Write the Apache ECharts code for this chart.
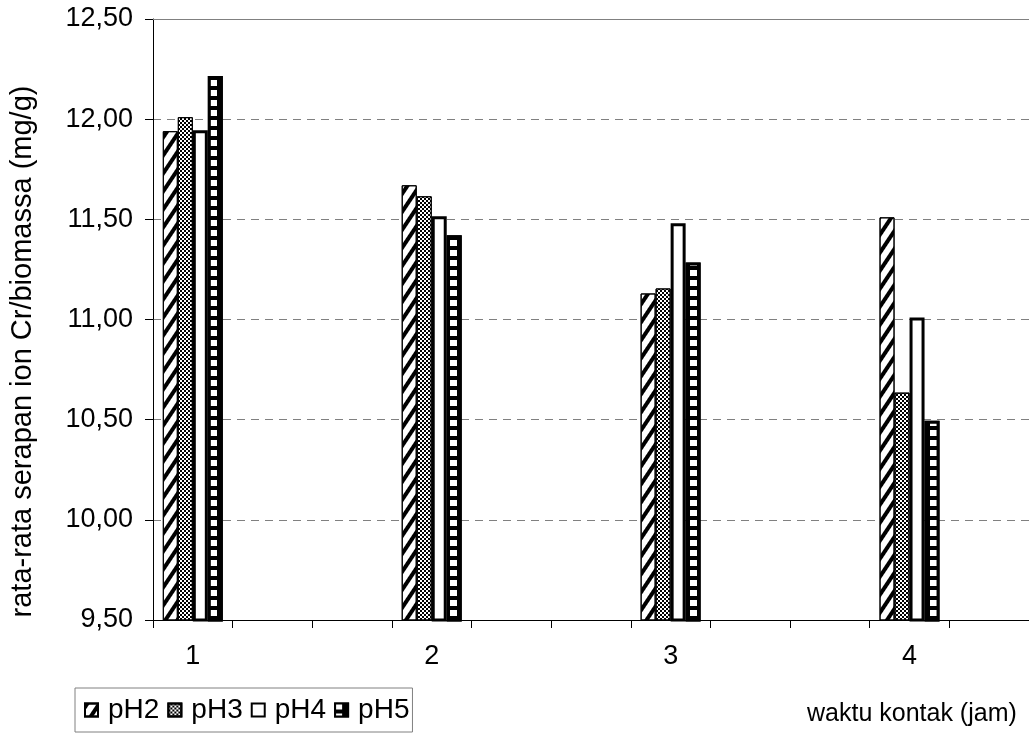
<!DOCTYPE html>
<html>
<head>
<meta charset="utf-8">
<script src="https://cdn.jsdelivr.net/npm/echarts@6/dist/echarts.min.js"></script>
<style>
html,body{margin:0;padding:0;background:#fff;}
#chart{width:1029px;height:744px;}
</style>
</head>
<body>
<div id="chart"></div>
<script>
// ---- data ----
const categories = ['1', '2', '3', '4'];
const seriesNames = ['pH2', 'pH3', 'pH4', 'pH5'];
const pH2 = [11.94, 11.67, 11.13, 11.51];
const pH3 = [12.01, 11.615, 11.155, 10.635];
const pH4 = [11.945, 11.515, 11.48, 11.01];
const pH5 = [12.215, 11.42, 11.285, 10.495];
const yTickValues = [9.5, 10.0, 10.5, 11.0, 11.5, 12.0, 12.5];
const yTitle = 'rata-rata serapan ion Cr/biomassa (mg/g)';
const xTitle = 'waktu kontak (jam)';

// category axis: each category sits in every 3rd slot of an 11-slot axis
const slotsPerCategory = 3;
const slotCount = 11;
const xSlots = [];
for (let s = 0; s < slotCount; s++) {
  xSlots.push(s % slotsPerCategory === 0 && categories[s / slotsPerCategory] !== undefined ? categories[s / slotsPerCategory] : ' ' + s);
}
function toSlots(values) {
  const out = new Array(slotCount).fill('-');
  values.forEach((v, i) => { out[i * slotsPerCategory] = v; });
  return out;
}

const FONT = 'Liberation Sans, Arial, sans-serif';
const chart = echarts.init(document.getElementById('chart'), null, {renderer: 'canvas'});

const styles = {
  pH2: {
    itemStyle: {
      color: '#ffffff', borderColor: '#000', borderWidth: 1,
      decal: {symbol: 'rect', symbolSize: 1, color: '#000', dashArrayX: [1, 0], dashArrayY: [4, 6], rotation: -Math.PI / 3.2}
    }
  },
  pH3: {
    itemStyle: {
      color: '#ffffff', borderColor: '#000', borderWidth: 1,
      decal: {symbol: 'rect', symbolSize: 1, color: '#000', dashArrayX: [[2, 2], [0, 2, 2, 0]], dashArrayY: [2, 0]}
    }
  },
  pH4: {
    itemStyle: {color: '#ffffff', borderColor: '#000', borderWidth: 3}
  },
  pH5: {
    itemStyle: {
      color: '#000000', borderColor: '#000', borderWidth: 3,
      decal: {symbol: 'rect', symbolSize: 1, color: '#fff', dashArrayX: [7, 8], dashArrayY: [6, 4]}
    }
  }
};
const dataByName = {pH2: pH2, pH3: pH3, pH4: pH4, pH5: pH5};

const series = seriesNames.map(name => Object.assign({
  name: name,
  type: 'bar',
  barWidth: 15,
  barGap: '0%',
  data: toSlots(dataByName[name]),
  emphasis: {disabled: true},
  animation: false
}, styles[name]));

chart.setOption({
  animation: false,
  backgroundColor: '#fff',
  textStyle: {fontFamily: FONT},
  grid: {left: 152, top: 19, right: -10, bottom: 124},
  title: {
    text: xTitle, left: 802, top: 697,
    textStyle: {fontFamily: FONT, fontSize: 25, fontWeight: 'normal', color: '#000'}
  },
  legend: {
    data: seriesNames,
    left: 75, top: 688,
    orient: 'horizontal',
    borderColor: '#808080', borderWidth: 1,
    padding: [8, 3, 8, 9],
    itemWidth: 13, itemHeight: 13, itemGap: 8,
    icon: 'rect',
    textStyle: {fontFamily: FONT, fontSize: 28, color: '#000', padding: [0, 0, 0, 5]}
  },
  xAxis: [{
    type: 'category',
    data: xSlots,
    boundaryGap: true,
    axisLine: {lineStyle: {color: '#000', width: 1}},
    axisTick: {show: true, interval: 0, length: 8, lineStyle: {color: '#000'}},
    axisLabel: {
      interval: 0, margin: 23, fontSize: 27, color: '#000', fontFamily: FONT,
      formatter: v => (categories.indexOf(v) >= 0 ? v : '')
    },
    splitLine: {show: false}
  }, {
    type: 'category',
    position: 'top',
    data: xSlots,
    axisLine: {show: true, lineStyle: {color: '#808080', width: 1}},
    axisTick: {show: false},
    axisLabel: {show: false}
  }],
  yAxis: {
    type: 'value',
    min: yTickValues[0], max: yTickValues[yTickValues.length - 1], interval: 0.5,
    name: yTitle,
    nameLocation: 'middle',
    nameRotate: 90,
    nameGap: 116,
    nameTextStyle: {fontFamily: FONT, fontSize: 29, color: '#000', padding: [0, 64, 0, 0]},
    axisLine: {show: true, lineStyle: {color: '#000', width: 1}},
    axisTick: {show: true, length: 8, lineStyle: {color: '#000'}},
    axisLabel: {
      margin: 20, fontSize: 27, color: '#000', fontFamily: FONT,
      formatter: v => v.toFixed(2).replace('.', ',')
    },
    splitLine: {show: true, lineStyle: {color: '#808080', type: [8, 6], width: 1}}
  },
  series: series
});
</script>
</body>
</html>
